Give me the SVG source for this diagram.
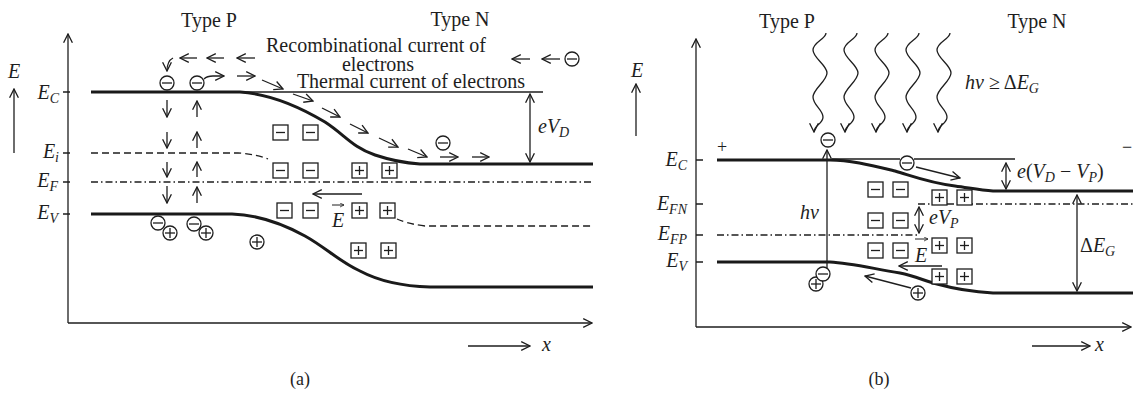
<svg xmlns="http://www.w3.org/2000/svg" width="1134" height="394" viewBox="0 0 1134 394">
<defs>
<marker id="ah" viewBox="0 0 10 10" refX="9" refY="5" markerWidth="11" markerHeight="11" markerUnits="userSpaceOnUse" orient="auto-start-reverse">
<path d="M1,1 L9,5 L1,9" fill="none" stroke="#1e1e1e" stroke-width="1.2"/>
</marker>
<marker id="ahs" viewBox="0 0 10 10" refX="9" refY="5" markerWidth="5" markerHeight="5" markerUnits="userSpaceOnUse" orient="auto">
<path d="M1,1 L9,5 L1,9" fill="none" stroke="#1e1e1e" stroke-width="1.5"/>
</marker>
<g id="em"><circle r="7" fill="#fff" stroke="#1e1e1e" stroke-width="1.3"/><line x1="-5" y1="0" x2="5" y2="0" stroke="#1e1e1e" stroke-width="1.3"/></g>
<g id="ep"><circle r="7" fill="#fff" stroke="#1e1e1e" stroke-width="1.3"/><line x1="-5" y1="0" x2="5" y2="0" stroke="#1e1e1e" stroke-width="1.3"/><line x1="0" y1="-5" x2="0" y2="5" stroke="#1e1e1e" stroke-width="1.3"/></g>
<g id="bm"><rect x="0" y="0" width="15" height="15" fill="#fff" stroke="#1e1e1e" stroke-width="1.3"/><line x1="3" y1="7.5" x2="12" y2="7.5" stroke="#1e1e1e" stroke-width="1.3"/></g>
<g id="bp"><rect x="0" y="0" width="15" height="15" fill="#fff" stroke="#1e1e1e" stroke-width="1.3"/><line x1="3" y1="7.5" x2="12" y2="7.5" stroke="#1e1e1e" stroke-width="1.3"/><line x1="7.5" y1="3" x2="7.5" y2="12" stroke="#1e1e1e" stroke-width="1.3"/></g>
<path id="wave" d="M6,33 C6,39 -7,42 -7,50 C-7,58 7,65 7,73 C7,81 -7,89 -7,97 C-7,105 3,110 3,117 C3,124 -6,125 -6,132" fill="none" stroke="#1e1e1e" stroke-width="1.3" marker-end="url(#ah)"/>
</defs>
<style>
text{font-family:"Liberation Serif","DejaVu Serif",serif;fill:#1e1e1e;font-size:20px}
.it{font-style:italic}
.sub{font-size:14px;font-style:italic}
.thin{fill:none;stroke:#1e1e1e;stroke-width:1.3}
.thick{fill:none;stroke:#1a1a1a;stroke-width:3}
.dash{fill:none;stroke:#1e1e1e;stroke-width:1.3;stroke-dasharray:7 4}
.dd{fill:none;stroke:#1e1e1e;stroke-width:1.3;stroke-dasharray:7 3 1.5 3}
.ar{fill:none;stroke:#1e1e1e;stroke-width:1.3;marker-end:url(#ah)}
.dar{fill:none;stroke:#1e1e1e;stroke-width:1.3;marker-end:url(#ah);marker-start:url(#ah)}
.sar{fill:none;stroke:#1e1e1e;stroke-width:1;marker-end:url(#ahs)}
</style>

<!-- ================= PANEL A ================= -->
<g id="panel-a">
<g id="a-axes">
<path class="ar" d="M68,323 L68,34"/>
<path class="ar" d="M68,323 L592,323"/>
<path class="ar" d="M14,153 L14,89"/>
<text class="it" x="14" y="78" text-anchor="middle">E</text>
<path class="thin" d="M63,92 L70,92 M63,153 L70,153 M63,182 L70,182 M63,214 L70,214"/>
<text x="59" y="99" text-anchor="end"><tspan class="it">E</tspan><tspan class="sub" dy="4">C</tspan></text>
<text x="59" y="158" text-anchor="end"><tspan class="it">E</tspan><tspan class="sub" dy="4">i</tspan></text>
<text x="58" y="187" text-anchor="end"><tspan class="it">E</tspan><tspan class="sub" dy="4">F</tspan></text>
<text x="58" y="219" text-anchor="end"><tspan class="it">E</tspan><tspan class="sub" dy="4">V</tspan></text>
<path class="ar" d="M468,346 L530,346"/>
<text class="it" x="542" y="351">x</text>
<text x="300" y="385" text-anchor="middle" style="font-size:18px">(a)</text>
</g>
<g id="a-titles">
<text x="209" y="27" text-anchor="middle">Type P</text>
<text x="460" y="26" text-anchor="middle">Type N</text>
<text x="376" y="52" text-anchor="middle">Recombinational current of</text>
<text x="378" y="71" text-anchor="middle">electrons</text>
<text x="411" y="88" text-anchor="middle">Thermal current of electrons</text>
</g>
<g id="a-bands">
<path class="thin" d="M91,92 L543,92"/>
<path class="thick" d="M91,92 L240,92 C270,94 300,107 325,122 C345,135 352,147 375,155 C390,160 405,163 420,164 L593,164"/>
<path class="dash" d="M91,153 L238,153 Q255,154 268,159 M397,219 Q408,224 425,226 L593,226"/>
<path class="dd" d="M91,182 L593,182"/>
<path class="thick" d="M91,214 L232,214 C260,215 285,225 305,236 C325,247 340,262 360,271 C375,279 395,286 430,287 L593,287"/>
<path class="dar" d="M530,94 L530,162"/>
<text x="538" y="133"><tspan class="it">eV</tspan><tspan class="sub" dy="4">D</tspan></text>
</g>
<g id="a-connectors">
<path class="ar" d="M197,58 L180,58"/>
<path class="ar" d="M224,58 L207,58"/>
<path class="ar" d="M255,58 L237,58"/>
<path class="ar" d="M530,59 L512,59"/>
<path class="ar" d="M560,59 L542,59"/>
<path class="ar" d="M173,58 Q167,61 167,71"/>
<path class="ar" d="M204,79 Q207,76 213,76 L224,76"/>
<path class="ar" d="M237,76 L255,76"/>
<path class="ar" d="M262,80 L283,89"/>
<path class="ar" d="M293,94 L313,101"/>
<path class="ar" d="M322,108 L340,117"/>
<path class="ar" d="M350,124 L368,133"/>
<path class="ar" d="M379,138 L398,147"/>
<path class="ar" d="M408,149 L427,157"/>
<path class="ar" d="M440,157 L458,157"/>
<path class="ar" d="M472,157 L489,157"/>
<path class="ar" d="M167,100 L167,117"/>
<path class="ar" d="M167,132 L167,148"/>
<path class="ar" d="M167,162 L167,177"/>
<path class="ar" d="M167,186 L167,203"/>
<path class="ar" d="M197,117 L197,101"/>
<path class="ar" d="M197,148 L197,132"/>
<path class="ar" d="M197,177 L197,162"/>
<path class="ar" d="M197,203 L197,187"/>
<path class="ar" d="M362,194 L313,194"/>
<path class="sar" d="M332,205 L344,205"/>
<text class="it" x="338" y="227" text-anchor="middle">E</text>
</g>
<g id="a-charges">
<use href="#em" x="167" y="83"/>
<use href="#em" x="197" y="83"/>
<use href="#em" x="572" y="59"/>
<use href="#em" x="443" y="143"/>
<use href="#em" x="158" y="223"/>
<use href="#ep" x="170" y="233"/>
<use href="#em" x="194" y="224"/>
<use href="#ep" x="206" y="233"/>
<use href="#ep" x="257" y="242"/>
<use href="#bm" x="273" y="125"/><use href="#bm" x="303" y="125"/>
<use href="#bm" x="273" y="163"/><use href="#bm" x="303" y="163"/>
<use href="#bm" x="277" y="203"/><use href="#bm" x="303" y="203"/>
<use href="#bp" x="352" y="163"/><use href="#bp" x="382" y="163"/>
<use href="#bp" x="352" y="203"/><use href="#bp" x="380" y="203"/>
<use href="#bp" x="351" y="243"/><use href="#bp" x="381" y="243"/>
</g>
</g>

<!-- ================= PANEL B ================= -->
<g id="panel-b">
<g id="b-axes">
<path class="ar" d="M696,327 L696,39"/>
<path class="ar" d="M696,327 L1131,327"/>
<path class="ar" d="M636,136 L636,84"/>
<text class="it" x="637" y="77" text-anchor="middle">E</text>
<path class="thin" d="M696,160 L703,160 M696,204 L703,204 M696,235 L703,235 M696,262 L703,262"/>
<text x="687" y="166" text-anchor="end"><tspan class="it">E</tspan><tspan class="sub" dy="4">C</tspan></text>
<text x="687" y="210" text-anchor="end"><tspan class="it">E</tspan><tspan class="sub" dy="4">FN</tspan></text>
<text x="687" y="240" text-anchor="end"><tspan class="it">E</tspan><tspan class="sub" dy="4">FP</tspan></text>
<text x="687" y="267" text-anchor="end"><tspan class="it">E</tspan><tspan class="sub" dy="4">V</tspan></text>
<path class="ar" d="M1032,346 L1090,346"/>
<text class="it" x="1095" y="351">x</text>
<text x="879" y="385" text-anchor="middle" style="font-size:18px">(b)</text>
</g>
<g id="b-titles">
<text x="787" y="28" text-anchor="middle">Type P</text>
<text x="1037" y="28" text-anchor="middle">Type N</text>
<text x="965" y="89"><tspan class="it">hν</tspan> ≥ Δ<tspan class="it">E</tspan><tspan class="sub" dy="4">G</tspan></text>
<text x="722" y="153" text-anchor="middle" style="font-size:18px">+</text>
<text x="1122" y="153" style="font-size:18px">−</text>
</g>
<g id="b-photons">
<use href="#wave" x="820" y="0"/>
<use href="#wave" x="851" y="0"/>
<use href="#wave" x="882" y="0"/>
<use href="#wave" x="913" y="0"/>
<use href="#wave" x="944" y="0"/>
</g>
<g id="b-bands">
<path class="thin" d="M832,159 L900,159 M914,159 L1015,159"/>
<path class="thick" d="M717,160 L830,160 C850,160 870,165 895,171 C915,177 930,183 955,186 C970,188 980,190 993,191 L1133,191"/>
<path class="dd" d="M918,204 L1134,204"/>
<path class="dd" d="M717,235 L917,235"/>
<path class="thick" d="M717,262 L830,262 C850,263 870,268 900,273 C915,276 925,281 937,284 C955,289 975,292 993,293 L1133,293"/>
<path class="dar" d="M1006,163 L1006,189"/>
<text x="1017" y="178"><tspan class="it">e</tspan>(<tspan class="it">V</tspan><tspan class="sub" dy="4">D</tspan><tspan dy="-4"> − </tspan><tspan class="it">V</tspan><tspan class="sub" dy="4">P</tspan><tspan dy="-4">)</tspan></text>
<path class="dar" d="M919,207 L919,233"/>
<text x="929" y="224"><tspan class="it">eV</tspan><tspan class="sub" dy="4">P</tspan></text>
<path class="dar" d="M1077,195 L1077,291"/>
<text x="1080" y="252">Δ<tspan class="it">E</tspan><tspan class="sub" dy="4">G</tspan></text>
</g>
<g id="b-connectors">
<path class="ar" d="M827,268 L827,150"/>
<text class="it" x="819" y="219" text-anchor="end">hν</text>
<path class="ar" d="M916,167 L960,178"/>
<path class="ar" d="M942,266 L899,266"/>
<path class="sar" d="M915,239 L928,239"/>
<text class="it" x="921" y="262" text-anchor="middle">E</text>
<path class="ar" d="M911,288 L865,276"/>
</g>
<g id="b-charges">
<use href="#em" x="828" y="140"/>
<use href="#em" x="907" y="163"/>
<use href="#ep" x="816" y="284"/>
<use href="#em" x="823" y="274"/>
<use href="#ep" x="918" y="293"/>
<use href="#bm" x="868" y="182"/><use href="#bm" x="893" y="182"/>
<use href="#bm" x="868" y="213"/><use href="#bm" x="893" y="213"/>
<use href="#bm" x="868" y="243"/><use href="#bm" x="893" y="243"/>
<use href="#bp" x="932" y="190"/><use href="#bp" x="957" y="190"/>
<use href="#bp" x="932" y="238"/><use href="#bp" x="957" y="238"/>
<use href="#bp" x="932" y="269"/><use href="#bp" x="957" y="269"/>
</g>
</g>
</svg>
